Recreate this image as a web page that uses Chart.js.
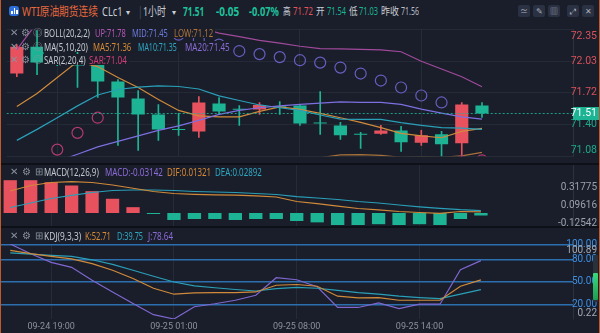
<!DOCTYPE html>
<html lang="zh">
<head>
<meta charset="utf-8">
<title>WTI原油期货连续 CLc1 1小时</title>
<script src="https://cdn.jsdelivr.net/npm/chart.js@4.4.1/dist/chart.umd.min.js"></script>
<style>
  html, body { margin: 0; padding: 0; }
  body { width: 600px; height: 333px; background: #191e2a; position: relative; overflow: hidden;
         font-family: "Noto Sans", "Noto Sans CJK SC", sans-serif; }
  canvas { position: absolute; left: 0; }
  .t { position: absolute; white-space: nowrap; transform-origin: 0 50%; }
  .hd { top: 4px; line-height: 15px; font-size: 12px; color: #c9cdd5; }
  .sm { font-size: 10.5px; }
  .num { font-weight: bold; font-size: 13px; color: #1ec29c; }
  .lg { position: absolute; left: 0; height: 11px; font-size: 11px; }
  .lg .t { line-height: 11px; top: 0; }
  .lgbg { position: absolute; top: 0; height: 11px; background: #191e2a; }
  .ic { position: absolute; top: 0; color: #8b919c; font-size: 9.5px; line-height: 11px; }
  .btn { position: absolute; top: 5px; width: 12px; height: 12px; background: #2a3142; border-radius: 2px;
         color: #aab0bb; font-size: 8px; line-height: 12px; text-align: center; }
  .sep { position: absolute; left: 0; width: 600px; height: 2px; background: #0d1016; }
  .frame { position: absolute; top: 0; width: 1px; height: 333px; background: #c0592b; }
</style>
</head>
<body>

<canvas id="main" width="600" height="140" style="top:23px"></canvas>
<div class="sep" style="top:163px"></div>
<canvas id="macd" width="600" height="61" style="top:165px"></canvas>
<div class="sep" style="top:226px"></div>
<canvas id="kdj" width="600" height="105" style="top:228px"></canvas>

<!-- header -->
<div style="position:absolute;left:9px;top:6px;width:10px;height:10px;border-radius:3px;background:#2f6fdc">
  <div style="position:absolute;left:2px;top:5px;width:1.5px;height:3px;background:#fff"></div>
  <div style="position:absolute;left:4.5px;top:2px;width:1.5px;height:6px;background:#fff"></div>
  <div style="position:absolute;left:7px;top:4px;width:1.5px;height:4px;background:#fff"></div>
</div>
<span class="t hd" style="left:22px;color:#e8683d" data-w="76">WTI原油期货连续</span>
<span class="t hd" style="left:102px" data-w="21">CLc1</span>
<span class="t hd" style="left:126px;font-size:8px">▾</span>
<span class="t hd" style="left:137px;color:#3e4554">|</span>
<span class="t hd" style="left:143px" data-w="23">1小时</span>
<span class="t hd" style="left:172px;font-size:8px">▾</span>
<span class="t hd num" style="left:183px" data-w="21">71.51</span>
<span class="t hd num" style="left:216px" data-w="23">-0.05</span>
<span class="t hd num" style="left:249px" data-w="30">-0.07%</span>
<span class="t hd sm" style="left:283px" data-w="8">高</span>
<span class="t hd sm" style="left:293px;color:#e2545e" data-w="20">71.72</span>
<span class="t hd sm" style="left:316px" data-w="9">开</span>
<span class="t hd sm" style="left:327px;color:#1db495" data-w="19">71.54</span>
<span class="t hd sm" style="left:349px" data-w="9">低</span>
<span class="t hd sm" style="left:359px;color:#1db495" data-w="19">71.03</span>
<span class="t hd sm" style="left:381px" data-w="18">昨收</span>
<span class="t hd sm" style="left:401px;color:#b9bec7" data-w="18">71.56</span>
<div class="btn" style="left:518px">≃</div>
<div class="btn" style="left:533px">✎</div>
<div class="btn" style="left:548px">▥</div>
<div class="btn" style="left:567px">⤢</div>
<div class="btn" style="left:582px">✕</div>

<!-- main pane legend -->
<div class="lg" style="top:27px">
  <span class="ic" style="left:10px">✕</span><span class="ic" style="left:21px">⚙</span><span class="ic" style="left:33px">◎</span>
  <div class="lgbg" style="left:43px;width:172px"></div>
  <span class="t" style="left:44px;color:#c4c8d0" data-w="46">BOLL(20,2,2)</span>
  <span class="t" style="left:95px;color:#b557b6" data-w="31">UP:71.78</span>
  <span class="t" style="left:132px;color:#6e7ad9" data-w="36">MID:71.45</span>
  <span class="t" style="left:174px;color:#b0743c" data-w="39">LOW:71.12</span>
</div>
<div class="lg" style="top:40.5px">
  <span class="ic" style="left:10px">✕</span><span class="ic" style="left:21px">⚙</span><span class="ic" style="left:33px">◎</span>
  <div class="lgbg" style="left:43px;width:189px"></div>
  <span class="t" style="left:44px;color:#c4c8d0" data-w="44">MA(5,10,20)</span>
  <span class="t" style="left:93px;color:#d98a35" data-w="38">MA5:71.36</span>
  <span class="t" style="left:138px;color:#2fa8c2" data-w="39">MA10:71.35</span>
  <span class="t" style="left:185px;color:#8b6bd6" data-w="45">MA20:71.45</span>
</div>
<div class="lg" style="top:54px">
  <span class="ic" style="left:10px">✕</span><span class="ic" style="left:21px">⚙</span><span class="ic" style="left:33px">◎</span>
  <div class="lgbg" style="left:43px;width:86px"></div>
  <span class="t" style="left:44px;color:#c4c8d0" data-w="42">SAR(2,20,4)</span>
  <span class="t" style="left:89px;color:#cf3d79" data-w="38">SAR:71.04</span>
</div>

<!-- MACD legend -->
<div class="lg" style="top:165.5px">
  <span class="ic" style="left:10px">✕</span><span class="ic" style="left:22px">⚙</span><span class="ic" style="left:35px">⊞</span>
  <div class="lgbg" style="left:43px;width:221px"></div>
  <span class="t" style="left:44px;color:#c4c8d0" data-w="55">MACD(12,26,9)</span>
  <span class="t" style="left:105px;color:#8d6bd8" data-w="58">MACD:-0.03142</span>
  <span class="t" style="left:167px;color:#d98a35" data-w="44">DIF:0.01321</span>
  <span class="t" style="left:215px;color:#2fa8c2" data-w="47">DEA:0.02892</span>
</div>

<!-- KDJ legend -->
<div class="lg" style="top:229.5px">
  <span class="ic" style="left:10px">✕</span><span class="ic" style="left:22px">⚙</span><span class="ic" style="left:35px">⊞</span>
  <div class="lgbg" style="left:43px;width:132px"></div>
  <span class="t" style="left:44px;color:#c4c8d0" data-w="37">KDJ(9,3,3)</span>
  <span class="t" style="left:85px;color:#d98a35" data-w="26">K:52.71</span>
  <span class="t" style="left:117px;color:#2fa8c2" data-w="26">D:39.75</span>
  <span class="t" style="left:148px;color:#8d6bd8" data-w="25">J:78.64</span>
</div>

<div style="position:absolute;left:593px;top:255px;width:5px;height:47px;background:#2b313b;border-radius:1px"></div>
<div style="position:absolute;left:593px;top:273px;width:5px;height:27px;background:linear-gradient(#3ad97a,#1d9e55);border-radius:1px"></div>

<div class="frame" style="left:0"></div>
<div class="frame" style="left:599px"></div>

<script>
// 1 hour candles, 09-24 17:00 .. 09-25 17:00 (no 05:00 bar), plus empty slots on the right
const categories = [
  '09-24 17:00', '09-24 18:00', '09-24 19:00', '09-24 20:00', '09-24 21:00', '09-24 22:00',
  '09-24 23:00', '09-25 00:00', '09-25 01:00', '09-25 02:00', '09-25 03:00', '09-25 04:00',
  '09-25 06:00', '09-25 07:00', '09-25 08:00', '09-25 09:00', '09-25 10:00', '09-25 11:00',
  '09-25 12:00', '09-25 13:00', '09-25 14:00', '09-25 15:00', '09-25 16:00', '09-25 17:00',
  '', '', '', ''
];
const shownTimes = ['09-24 19:00', '09-25 01:00', '09-25 08:00', '09-25 14:00'];

const opens  = [71.91, 72.18, 72.05, 72.06, 72.01, 71.83, 71.66, 71.50, 71.352, 71.33, 71.61, 71.553,
                71.55, 71.577, 71.59, 71.415, 71.39, 71.302, 71.305, 71.34, 71.215, 71.30, 71.21, 71.59];
const highs  = [72.20, 72.34, 72.07, 72.21, 72.03, 71.85, 71.74, 71.60, 71.51, 71.68, 71.67, 71.59,
                71.62, 71.63, 71.60, 71.73, 71.42, 71.32, 71.39, 71.38, 71.34, 71.33, 71.62, 71.62];
const lows   = [71.88, 71.90, 71.99, 71.77, 71.67, 71.19, 71.14, 71.24, 71.29, 71.27, 71.50, 71.39,
                71.50, 71.50, 71.39, 71.30, 71.25, 71.16, 71.30, 71.13, 71.19, 71.03, 71.06, 71.47];
const closes = [72.18, 72.02, 72.00, 71.99, 71.83, 71.67, 71.50, 71.35, 71.345, 71.62, 71.53, 71.548,
                71.595, 71.572, 71.41, 71.41, 71.29, 71.297, 71.34, 71.22, 71.29, 71.20, 71.60, 71.51];

const ma5  = [71.58, 71.71, 71.87, 72.03, 71.98, 71.87, 71.77, 71.65, 71.54, 71.485, 71.476, 71.476,
              71.53, 71.576, 71.55, 71.51, 71.467, 71.42, 71.367, 71.31, 71.284, 71.266, 71.33, 71.36];
const ma10 = [71.24, 71.35, 71.467, 71.586, 71.695, 71.75, 71.773, 71.787, 71.78, 71.755, 71.686, 71.64,
              71.595, 71.567, 71.54, 71.494, 71.453, 71.45, 71.45, 71.417, 71.39, 71.367, 71.362, 71.35];
// MA20 and BOLL MID share the same values
const ma20 = [70.90, 70.97, 71.03, 71.10, 71.175, 71.23, 71.285, 71.34, 71.385, 71.44, 71.50, 71.54,
              71.567, 71.586, 71.60, 71.613, 71.625, 71.62, 71.62, 71.60, 71.554, 71.513, 71.476, 71.453];
const bollUp  = [72.15, 72.42, 72.49, 72.53, 72.55, 72.55, 72.53, 72.50, 72.45, 72.37, 72.316, 72.28,
                 72.243, 72.216, 72.184, 72.16, 72.157, 72.152, 72.147, 72.129, 72.033, 71.956, 71.878, 71.778];
const bollLow = [69.80, 69.60, 69.55, 69.65, 69.80, 69.90, 70.04, 70.18, 70.32, 70.51, 70.68, 70.80,
                 70.89, 70.956, 71.016, 71.066, 71.095, 71.097, 71.09, 71.07, 71.075, 71.07, 71.085, 71.12];
const sar = [70.88, 70.98, 71.147, 71.315, 71.467, 72.38, 72.37, 72.35, 72.30, 72.25, 72.20, 72.136,
             72.105, 72.075, 72.044, 72.02, 71.97, 71.91, 71.84, 71.77, 71.69, 71.62, 71.03, 71.04];
const mainTicks = [71.08, 71.40, 71.72, 72.03, 72.35];

const macdHist = [0.41, 0.41, 0.385, 0.344, 0.273, 0.178, 0.073, -0.006, -0.0875, -0.075, -0.075, -0.0875,
                  -0.075, -0.075, -0.10, -0.117, -0.15, -0.15, -0.14, -0.15, -0.14, -0.15, -0.075, -0.03142];
const difLine = [0.275, 0.344, 0.381, 0.391, 0.381, 0.35, 0.309, 0.269, 0.244, 0.234, 0.2275, 0.2225,
                 0.215, 0.20, 0.144, 0.116, 0.085, 0.056, 0.04, 0.019, 0.006, -0.004, 0.019, 0.01321];
const deaLine = [0.069, 0.125, 0.181, 0.221, 0.256, 0.281, 0.2875, 0.2875, 0.281, 0.269, 0.2625, 0.256,
                 0.244, 0.231, 0.204, 0.1875, 0.169, 0.144, 0.125, 0.10, 0.0775, 0.059, 0.041, 0.02892];
const macdTicks = [-0.12542, 0.09616, 0.31775];

const kLine = [92.4, 88.0, 84.3, 81.0, 74.6, 65.6, 54.5, 41.5, 33.5, 35.2, 35.5, 35.7,
               36.5, 45.5, 46.5, 44.2, 30.8, 28.5, 29.0, 25.4, 25.4, 25.4, 44.2, 52.71];
const dLine = [89.0, 87.3, 85.7, 84.3, 79.7, 73.6, 65.6, 57.6, 49.9, 44.8, 42.2, 39.8,
               37.8, 41.1, 42.8, 41.5, 38.6, 35.7, 33.5, 30.8, 29.0, 27.7, 33.5, 39.75];
const jLine = [100.89, 87.7, 76.3, 69.6, 52.2, 36.5, 21.0, 6.0, 0.22, 16.7, 20.7, 25.4,
               32.1, 55.6, 52.9, 43.5, 15.7, 15.7, 21.8, 14.3, 20.1, 20.1, 66.5, 78.64];
const kdjTicks = [0.22, 20, 50, 80, 100, 100.89];
const kdjLevels = [20, 50, 80, 100];

const FONT = "Roboto, 'Liberation Sans', sans-serif";
const RED = '#e8525e', GREEN = '#1db495';
const ORANGE = '#d08a3a', TEAL = '#2a9fb8', PURPLE = '#7c6fe0';
const lastClose = closes[closes.length - 1];
const candleColors = closes.map((c, i) => c >= opens[i] ? RED : GREEN);

// squeeze html labels to the measured widths
function fitLabels() {
  document.querySelectorAll('[data-w]').forEach(el => {
    el.style.transform = 'scaleX(' + (el.dataset.w / el.offsetWidth) + ')';
  });
}
fitLabels();
document.fonts.ready.then(fitLabels);

function edgeLabel(v, ticks, digits) {
  const s = v.toFixed(digits);
  if (v === ticks[ticks.length - 1]) return ['', s];
  if (v === ticks[0]) return [s, ''];
  return s;
}

function timeAxis(showLabels) {
  return {
    type: 'category',
    offset: true,
    grid: {
      offset: false, drawTicks: false, lineWidth: 1,
      color: c => shownTimes.includes(categories[c.index]) ? '#252c38' : 'rgba(0,0,0,0)'
    },
    border: { display: false },
    ticks: {
      display: showLabels, autoSkip: false, maxRotation: 0, padding: 2,
      color: '#8b919c', font: { size: 9, family: FONT },
      callback: (v, i) => shownTimes.includes(categories[i]) ? categories[i] : ''
    },
    afterFit: s => { s.height = showLabels ? 14 : 0; s.paddingLeft = 0; s.paddingRight = 0; }
  };
}

// right axis 27px wide; labels mirrored and pushed right so they end near the canvas edge
function valueAxis(extra) {
  return Object.assign({
    position: 'right',
    afterFit: s => { s.width = 27; s.paddingTop = 0; s.paddingBottom = 0; },
    border: { color: '#2b323e' }
  }, extra);
}

function line(data, color, order) {
  return { type: 'line', data, borderColor: color, borderWidth: 1.2, pointRadius: 0, tension: 0, fill: false, order };
}

const baseOptions = pad => ({
  responsive: false, animation: false, events: [],
  layout: { padding: { left: 0, right: 0, top: pad, bottom: 0 } },
  plugins: { legend: { display: false }, tooltip: { enabled: false } }
});

const priceLine = {
  id: 'priceLine',
  afterDraw(chart) {
    const { ctx, chartArea, scales } = chart;
    const py = Math.round(scales.y.getPixelForValue(lastClose)) + 0.5;
    ctx.save();
    ctx.strokeStyle = 'rgba(29,180,149,0.85)';
    ctx.setLineDash([2, 2]);
    ctx.lineWidth = 1;
    ctx.beginPath();
    ctx.moveTo(chartArea.left, py);
    ctx.lineTo(chartArea.right, py);
    ctx.stroke();
    ctx.setLineDash([]);
    ctx.fillStyle = GREEN;
    ctx.fillRect(chartArea.right, py - 6.5, 27, 13);
    ctx.fillStyle = '#ffffff';
    ctx.font = '10.5px ' + FONT;
    ctx.textAlign = 'right';
    ctx.textBaseline = 'middle';
    ctx.fillText(lastClose.toFixed(2), chartArea.right + 24, py);
    ctx.restore();
  }
};

new Chart(document.getElementById('main'), {
  type: 'bar',
  data: {
    labels: categories,
    datasets: [
      { type: 'bar', data: highs.map((h, i) => [lows[i], h]), backgroundColor: candleColors,
        barThickness: 1, grouped: false, order: 4 },
      { type: 'bar', data: opens.map((o, i) => [o, closes[i]]), backgroundColor: candleColors,
        barPercentage: 0.65, categoryPercentage: 1, grouped: false, minBarLength: 1, order: 3 },
      line(bollLow, '#a8713a', 2),
      line(bollUp, '#a14a9c', 2),
      line(ma20, PURPLE, 2),
      line(ma10, TEAL, 2),
      line(ma5, ORANGE, 2),
      { type: 'line', data: sar, showLine: false, pointStyle: 'circle', pointRadius: 5.5,
        pointBorderWidth: 1.2, pointBackgroundColor: 'rgba(0,0,0,0)',
        pointBorderColor: sar.map((s, i) => s < closes[i] ? '#b23a70' : '#6a5cc0'), order: 1 }
    ]
  },
  options: Object.assign(baseOptions(0), {
    scales: {
      x: timeAxis(false),
      y: valueAxis({
        min: 71.08, max: 72.35,
        afterBuildTicks: s => { s.ticks = mainTicks.map(v => ({ value: v })); },
        grid: { color: '#242b37', drawTicks: false },
        ticks: {
          autoSkip: false, mirror: true, crossAlign: 'near', padding: 24, font: { size: 10.5, family: FONT },
          color: c => c.tick.value > lastClose ? '#d9525c' : '#1fa98b',
          callback: v => edgeLabel(v, mainTicks, 2)
        }
      })
    }
  }),
  plugins: [priceLine]
});

new Chart(document.getElementById('macd'), {
  type: 'bar',
  data: {
    labels: categories,
    datasets: [
      { type: 'bar', data: macdHist, backgroundColor: macdHist.map(v => v >= 0 ? RED : GREEN),
        barPercentage: 0.65, categoryPercentage: 1, minBarLength: 1, order: 2 },
      line(difLine, ORANGE, 1),
      line(deaLine, TEAL, 1)
    ]
  },
  options: Object.assign(baseOptions(0), {
    scales: {
      x: timeAxis(false),
      y: valueAxis({
        min: -0.1625, max: 0.6,
        afterBuildTicks: s => { s.ticks = macdTicks.map(v => ({ value: v })); },
        grid: { display: false },
        ticks: {
          autoSkip: false, mirror: true, crossAlign: 'near', padding: 24, font: { size: 10, family: FONT },
          color: '#9ba1ac', callback: v => v.toFixed(5)
        }
      })
    }
  })
});

new Chart(document.getElementById('kdj'), {
  type: 'line',
  data: {
    labels: categories,
    datasets: [
      line(kLine, ORANGE, 1),
      line(dLine, TEAL, 1),
      line(jLine, '#8066d0', 1)
    ]
  },
  options: Object.assign(baseOptions(16), {
    scales: {
      x: timeAxis(true),
      y: valueAxis({
        min: 0.22, max: 100.89,
        afterBuildTicks: s => { s.ticks = kdjTicks.map(v => ({ value: v })); },
        grid: {
          drawTicks: false, lineWidth: 1.5,
          color: c => kdjLevels.includes(c.tick.value) ? '#2c6fae' : 'rgba(0,0,0,0)'
        },
        ticks: {
          autoSkip: false, mirror: true, crossAlign: 'near', padding: 24, font: { size: 10, family: FONT },
          color: c => kdjLevels.includes(c.tick.value) ? '#3d8fe3' : '#a3a9b3',
          callback: v => edgeLabel(v, kdjTicks, 2)
        }
      })
    }
  })
});
</script>
</body>
</html>
